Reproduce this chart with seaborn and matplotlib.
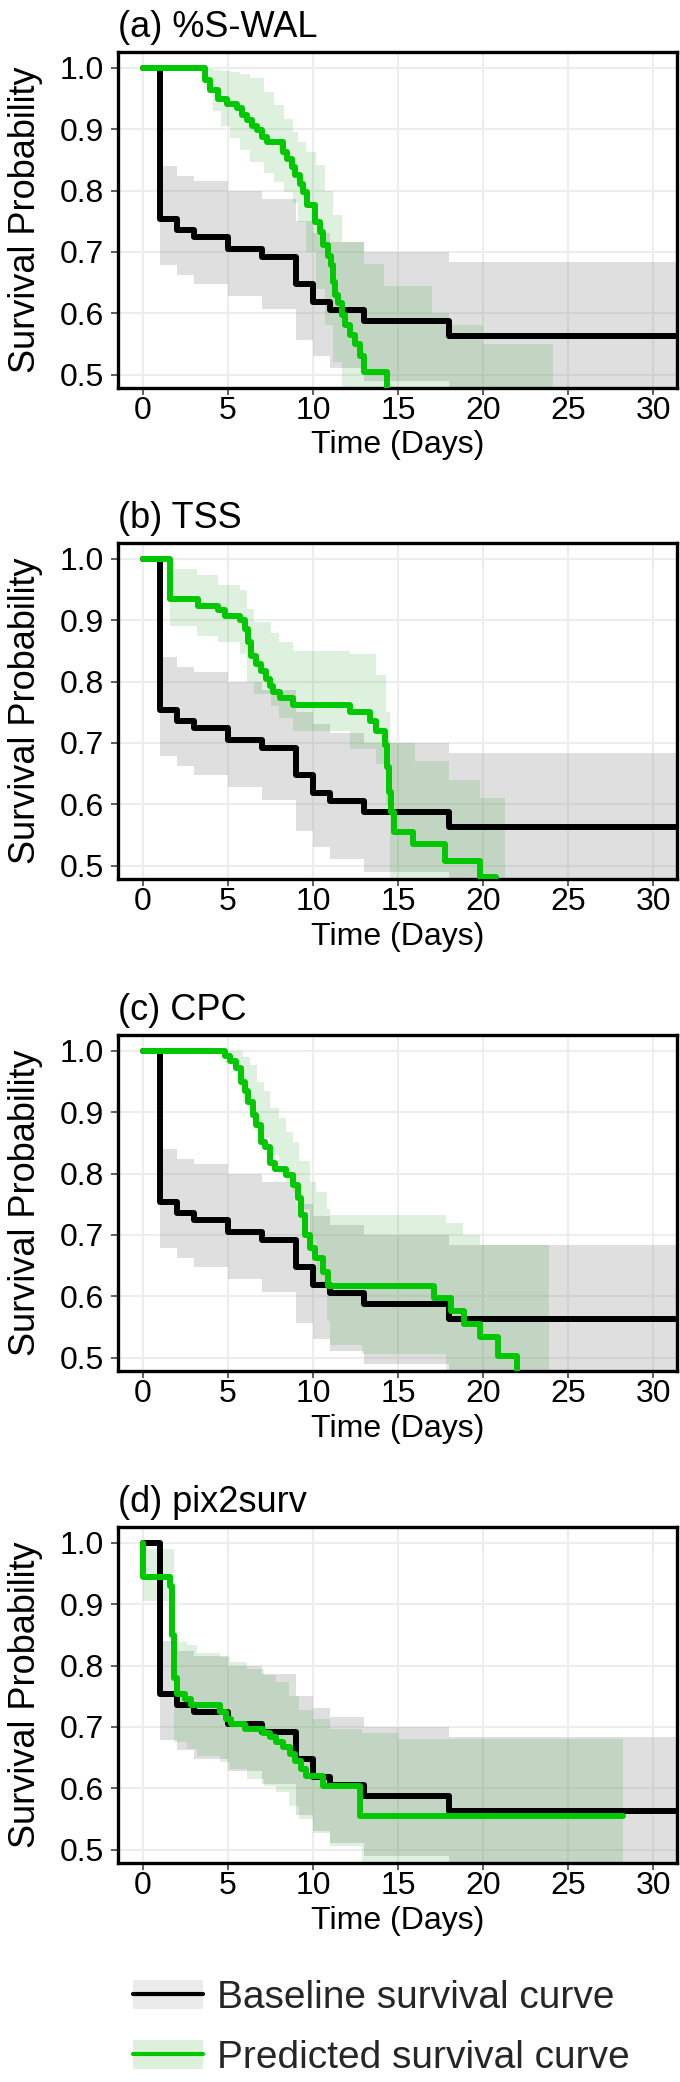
import numpy as np
import pandas as pd
import seaborn as sns
import matplotlib
matplotlib.use('Agg')
import matplotlib.pyplot as plt
from matplotlib.patches import Patch
from matplotlib.lines import Line2D
from matplotlib.legend_handler import HandlerTuple

# Baseline Kaplan-Meier curve (same in every panel)
base_time = [0, 1, 2, 3, 5, 7, 9, 10, 11, 13, 18, 32]
base_surv = [1.0, 0.754, 0.735, 0.724, 0.705, 0.692, 0.648, 0.618, 0.605, 0.587, 0.563, 0.563]
base_lower = [1.0, 0.679, 0.663, 0.647, 0.628, 0.607, 0.557, 0.530, 0.511, 0.489, 0.46, 0.46]
base_upper = [1.0, 0.840, 0.824, 0.815, 0.799, 0.787, 0.751, 0.730, 0.716, 0.700, 0.684, 0.684]

# (a) %S-WAL predicted curve
swal_time = [0, 3.63, 3.93, 4.42, 4.91, 5.50, 5.80, 6.09, 6.39, 6.68, 6.97, 7.27, 8.25, 8.45, 8.74,
             8.94, 9.23, 9.43, 9.63, 10.12, 10.41, 10.61, 10.90, 11.06, 11.20, 11.30, 11.49, 11.69,
             11.89, 12.18, 12.48, 12.77, 12.97, 14.34]
swal_surv = [1.0, 0.980, 0.964, 0.950, 0.942, 0.934, 0.923, 0.915, 0.906, 0.898, 0.887, 0.879, 0.863,
             0.852, 0.838, 0.825, 0.811, 0.798, 0.776, 0.749, 0.732, 0.711, 0.694, 0.678, 0.651, 0.629,
             0.616, 0.597, 0.580, 0.564, 0.550, 0.531, 0.504, 0.45]
swal_band_time = [0, 3.6, 4.1, 4.6, 5.1, 5.7, 6.3, 7.1, 7.7, 8.3, 8.8, 9.1, 9.6, 10.2, 10.7, 11.2,
                  11.7, 13.0, 14.2, 17.0, 18.0, 20.0, 24.1]
swal_upper = [1.0, 0.998, 0.997, 0.995, 0.993, 0.99, 0.983, 0.96, 0.94, 0.917, 0.896, 0.88, 0.863,
              0.842, 0.80, 0.76, 0.716, 0.68, 0.645, 0.60, 0.58, 0.55, 0.55]
swal_lower = [1.0, 0.966, 0.93, 0.906, 0.885, 0.866, 0.847, 0.828, 0.814, 0.798, 0.78, 0.749, 0.70,
              0.64, 0.58, 0.52, 0.45, 0.45, 0.45, 0.45, 0.45, 0.45, 0.45]

# (b) TSS predicted curve
tss_time = [0, 1.61, 3.24, 4.41, 4.80, 5.69, 5.98, 6.18, 6.37, 6.67, 6.96, 7.25, 7.45, 7.65, 8.04,
            8.82, 12.16, 13.33, 13.73, 14.22, 14.35, 14.45, 14.60, 14.75, 15.88, 17.75, 19.80, 20.78]
tss_surv = [1.0, 0.934, 0.924, 0.916, 0.907, 0.900, 0.886, 0.864, 0.842, 0.829, 0.818, 0.804, 0.793,
            0.783, 0.774, 0.762, 0.750, 0.736, 0.720, 0.696, 0.660, 0.620, 0.587, 0.554, 0.535, 0.508,
            0.481, 0.481]
tss_band_time = [0, 1.6, 3.2, 4.4, 5.7, 6.1, 6.5, 7.5, 8.0, 8.8, 12.2, 13.7, 14.3, 14.5, 16.0, 18.0,
                 19.8, 21.3]
tss_upper = [1.0, 0.984, 0.973, 0.957, 0.95, 0.918, 0.897, 0.88, 0.864, 0.85, 0.845, 0.81, 0.75,
             0.70, 0.67, 0.64, 0.61, 0.61]
tss_lower = [1.0, 0.89, 0.875, 0.865, 0.845, 0.80, 0.78, 0.76, 0.74, 0.72, 0.69, 0.665, 0.60, 0.45,
             0.45, 0.45, 0.45, 0.45]

# (c) CPC predicted curve
cpc_time = [0, 4.80, 5.10, 5.49, 5.78, 5.98, 6.18, 6.47, 6.67, 6.96, 7.16, 7.45, 7.75, 8.43, 8.82,
            9.12, 9.31, 9.51, 9.80, 10.10, 10.59, 10.88, 17.1, 18.1, 18.9, 19.8, 20.9, 22.0]
cpc_surv = [1.0, 0.991, 0.983, 0.972, 0.950, 0.934, 0.917, 0.896, 0.879, 0.852, 0.844, 0.817, 0.808,
            0.798, 0.782, 0.760, 0.733, 0.700, 0.678, 0.662, 0.640, 0.616, 0.597, 0.576, 0.555, 0.533,
            0.503, 0.45]
cpc_band_time = [0, 4.8, 5.9, 6.3, 6.7, 7.1, 7.45, 8.0, 8.4, 8.8, 9.2, 9.8, 10.2, 10.8, 11.0, 12.9,
                 17.8, 18.8, 19.8, 23.9]
cpc_upper = [1.0, 1.0, 0.99, 0.977, 0.95, 0.934, 0.907, 0.89, 0.868, 0.852, 0.82, 0.787, 0.77, 0.743,
             0.733, 0.733, 0.72, 0.70, 0.684, 0.684]
cpc_lower = [1.0, 0.98, 0.917, 0.89, 0.87, 0.858, 0.83, 0.80, 0.787, 0.77, 0.743, 0.69, 0.62, 0.56,
             0.52, 0.505, 0.45, 0.45, 0.45, 0.45]

# (d) pix2surv predicted curve
pix_time = [0, 0.02, 1.57, 1.70, 1.85, 2.00, 2.45, 2.84, 4.51, 4.90, 5.20, 5.98, 7.06, 7.45, 7.84,
            8.24, 8.63, 8.92, 9.31, 9.61, 10.59, 12.75, 28.2]
pix_surv = [1.0, 0.945, 0.93, 0.85, 0.78, 0.754, 0.746, 0.735, 0.724, 0.713, 0.705, 0.697, 0.690,
            0.683, 0.675, 0.667, 0.656, 0.645, 0.631, 0.620, 0.603, 0.555, 0.555]
pix_band_time = [0, 1.6, 1.8, 2.6, 3.2, 4.5, 5.1, 6.1, 7.1, 7.8, 8.6, 9.2, 10.0, 11.0, 12.9, 15.0, 28.2]
pix_upper = [0.99, 0.99, 0.839, 0.833, 0.82, 0.814, 0.806, 0.795, 0.784, 0.773, 0.751, 0.727, 0.713,
             0.697, 0.69, 0.68, 0.68]
pix_lower = [0.905, 0.905, 0.675, 0.664, 0.653, 0.642, 0.631, 0.615, 0.604, 0.593, 0.571, 0.549,
             0.527, 0.505, 0.45, 0.45, 0.45]

panel_titles = ['(a) %S-WAL', '(b) TSS', '(c) CPC', '(d) pix2surv']
pred_times = [swal_time, tss_time, cpc_time, pix_time]
pred_survs = [swal_surv, tss_surv, cpc_surv, pix_surv]
band_times = [swal_band_time, tss_band_time, cpc_band_time, pix_band_time]
band_uppers = [swal_upper, tss_upper, cpc_upper, pix_upper]
band_lowers = [swal_lower, tss_lower, cpc_lower, pix_lower]
x_ticks = [0, 5, 10, 15, 20, 25, 30]
y_ticks = [0.5, 0.6, 0.7, 0.8, 0.9, 1.0]

GREEN = '#00C800'
GRAY_FILL = (0.55, 0.55, 0.55)
GREEN_FILL = (0.0, 0.6, 0.0)

sns.set_theme(style='whitegrid')
plt.rcParams['font.family'] = ['Liberation Sans', 'DejaVu Sans']

fig = plt.figure(figsize=(6.8, 20.82), dpi=100)
W, H = 680, 2082
panel_tops = [52, 543, 1035, 1527]
ax_left, ax_w, ax_h = 118, 559, 336

for i, top in enumerate(panel_tops):
    ax = fig.add_axes([ax_left / W, 1 - (top + ax_h) / H, ax_w / W, ax_h / H])
    ax.set_facecolor('white')

    # confidence bands
    ax.fill_between(base_time, base_lower, base_upper, step='post',
                    color=GRAY_FILL, alpha=0.28, linewidth=0, zorder=1)
    ax.fill_between(band_times[i], band_lowers[i], band_uppers[i], step='post',
                    color=GREEN_FILL, alpha=0.13, linewidth=0, zorder=2)

    base_df = pd.DataFrame({'time': base_time, 'surv': base_surv})
    pred_df = pd.DataFrame({'time': pred_times[i], 'surv': pred_survs[i]})
    sns.lineplot(data=base_df, x='time', y='surv', ax=ax, color='black', linewidth=4.3,
                 drawstyle='steps-post', estimator=None, sort=False, zorder=3)
    sns.lineplot(data=pred_df, x='time', y='surv', ax=ax, color=GREEN, linewidth=4.3,
                 drawstyle='steps-post', estimator=None, sort=False, zorder=4)

    ax.set_xlim(-1.47, 31.4)
    ax.set_ylim(0.478, 1.026)
    ax.set_xticks(x_ticks)
    ax.set_yticks(y_ticks)
    ax.set_yticklabels([f'{v:.1f}' for v in y_ticks])
    ax.grid(True, color='#ededed', linewidth=1.5)
    for s in ax.spines.values():
        s.set_color('black')
        s.set_linewidth(2.4)
    ax.tick_params(axis='both', which='major', length=5, width=1.1, color='#333333',
                   labelsize=23, labelcolor='black', bottom=True, left=True)
    ax.tick_params(axis='x', pad=1)
    ax.tick_params(axis='y', pad=5)
    ax.set_xlabel('Time (Days)', fontsize=23, labelpad=3, color='black')
    ax.set_ylabel('Survival Probability', fontsize=26, labelpad=12, color='black')
    ax.set_title(panel_titles[i], loc='left', fontsize=26, pad=11, color='black')

handles = [
    (Patch(facecolor='#ebebeb', edgecolor='none'), Line2D([], [], color='black', linewidth=3)),
    (Patch(facecolor='#dcf0dc', edgecolor='none'), Line2D([], [], color=GREEN, linewidth=3)),
]
fig.legend(handles=handles, labels=['Baseline survival curve', 'Predicted survival curve'],
           handler_map={tuple: HandlerTuple(ndivide=1, pad=0)},
           loc='upper left', bbox_to_anchor=(133 / W, 1 - 1980 / H), frameon=False,
           fontsize=28, handlelength=1.8, handleheight=0.75, handletextpad=0.35,
           labelspacing=0.62, borderpad=0, borderaxespad=0)

fig.savefig('out.png', dpi=100)
